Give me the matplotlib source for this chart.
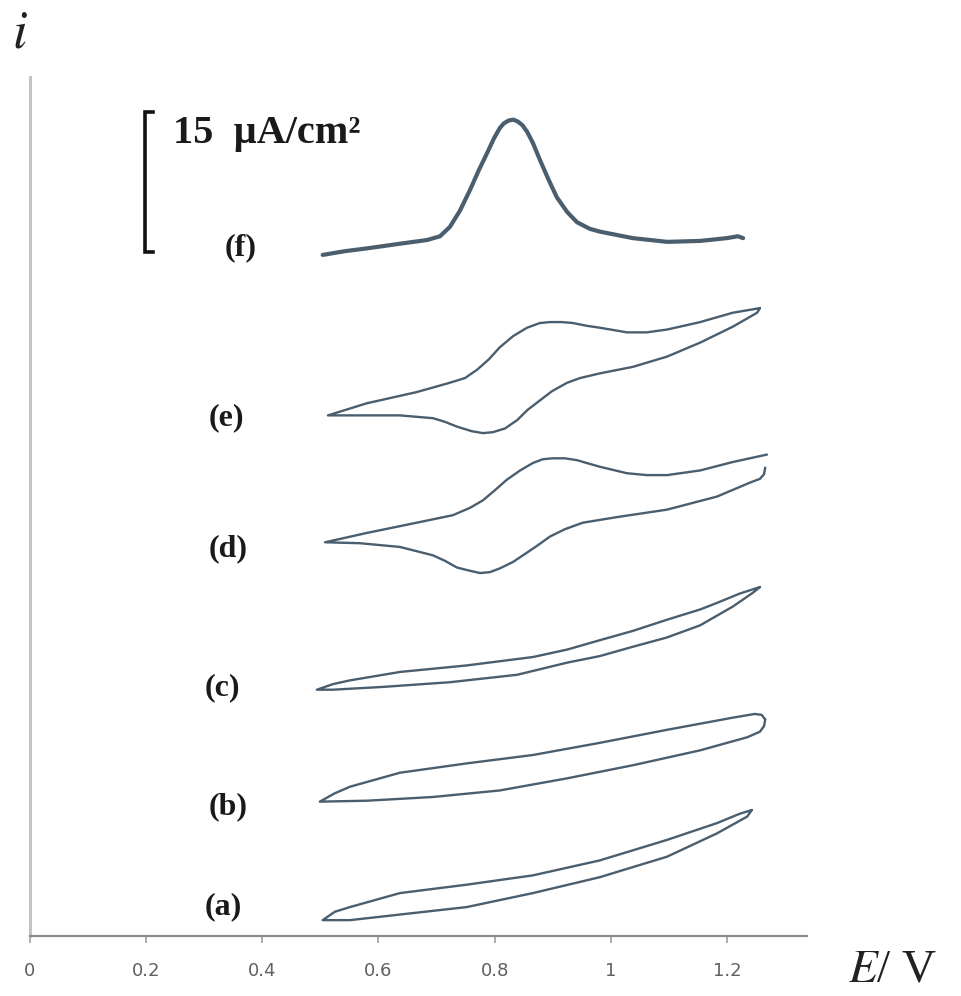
import numpy as np
import matplotlib
matplotlib.use("Agg")
import matplotlib.pyplot as plt

plt.rcParams['font.family'] = ['Liberation Serif', 'DejaVu Serif']
plt.rcParams['mathtext.fontset'] = 'stix'

# potentials (V) and currents (uA/cm2, curves stacked with offsets as drawn)
# each loop: anodic branch (up) and cathodic branch (dn), both left -> right
a_e_up = [0.504, 0.525, 0.551, 0.637, 0.752, 0.866, 0.981, 1.097, 1.183, 1.222, 1.243]
a_i_up = [1.7, 2.6, 3.1, 4.6, 5.5, 6.5, 8.1, 10.3, 12.1, 13.1, 13.5]
a_e_dn = [0.504, 0.551, 0.637, 0.752, 0.866, 0.981, 1.097, 1.183, 1.235, 1.243]
a_i_dn = [1.7, 1.7, 2.3, 3.1, 4.6, 6.3, 8.5, 11.0, 12.8, 13.5]

b_e_up = [0.499, 0.525, 0.551, 0.637, 0.752, 0.866, 0.981, 1.097, 1.210, 1.248, 1.260, 1.266]
b_i_up = [14.4, 15.3, 16.0, 17.5, 18.5, 19.4, 20.7, 22.1, 23.4, 23.8, 23.7, 23.2]
b_e_dn = [0.499, 0.580, 0.694, 0.809, 0.925, 1.038, 1.154, 1.235, 1.257, 1.264, 1.266]
b_i_dn = [14.4, 14.5, 14.9, 15.6, 16.9, 18.3, 19.9, 21.3, 21.9, 22.5, 23.2]

c_e_up = [0.494, 0.522, 0.551, 0.637, 0.752, 0.866, 0.925, 0.981, 1.038, 1.097, 1.154, 1.183, 1.222, 1.257]
c_i_up = [26.4, 27.0, 27.4, 28.3, 29.0, 29.9, 30.7, 31.7, 32.7, 33.9, 35.0, 35.7, 36.7, 37.4]
c_e_dn = [0.494, 0.522, 0.608, 0.723, 0.839, 0.925, 0.981, 1.038, 1.097, 1.154, 1.210, 1.245, 1.257]
c_i_dn = [26.4, 26.4, 26.7, 27.2, 28.0, 29.3, 30.0, 31.0, 32.0, 33.3, 35.3, 36.8, 37.4]

d_e_up = [0.508, 0.580, 0.666, 0.728, 0.758, 0.780, 0.801, 0.821, 0.844, 0.866, 0.883, 0.900,
          0.921, 0.942, 0.964, 0.981, 1.028, 1.062, 1.097, 1.154, 1.210, 1.269]
d_i_up = [42.2, 43.2, 44.3, 45.1, 45.9, 46.7, 47.8, 48.9, 49.9, 50.7, 51.1, 51.2,
          51.2, 51.0, 50.6, 50.3, 49.6, 49.4, 49.4, 49.9, 50.8, 51.6]
d_e_dn = [0.508, 0.568, 0.637, 0.694, 0.715, 0.735, 0.754, 0.775, 0.792, 0.809, 0.832, 0.856,
          0.875, 0.895, 0.921, 0.952, 1.011, 1.097, 1.183, 1.240, 1.257, 1.264, 1.266]
d_i_dn = [42.2, 42.1, 41.7, 40.8, 40.2, 39.5, 39.2, 38.9, 39.0, 39.4, 40.1, 41.1,
          41.9, 42.8, 43.6, 44.3, 44.9, 45.7, 47.1, 48.6, 49.0, 49.5, 50.2]

e_e_up = [0.513, 0.580, 0.666, 0.723, 0.749, 0.770, 0.790, 0.809, 0.832, 0.856, 0.878, 0.895,
          0.916, 0.935, 0.959, 0.981, 1.028, 1.062, 1.097, 1.154, 1.210, 1.257]
e_i_up = [55.8, 57.1, 58.3, 59.3, 59.8, 60.7, 61.8, 63.1, 64.3, 65.2, 65.7, 65.8,
          65.8, 65.7, 65.4, 65.2, 64.7, 64.7, 65.0, 65.8, 66.8, 67.3]
e_e_dn = [0.513, 0.534, 0.580, 0.637, 0.694, 0.715, 0.735, 0.761, 0.780, 0.797, 0.818, 0.839,
          0.857, 0.878, 0.899, 0.925, 0.947, 0.981, 1.038, 1.097, 1.154, 1.210, 1.252, 1.257]
e_i_dn = [55.8, 55.8, 55.8, 55.8, 55.5, 55.1, 54.6, 54.1, 53.9, 54.0, 54.4, 55.3,
          56.4, 57.4, 58.4, 59.3, 59.8, 60.3, 61.0, 62.1, 63.6, 65.3, 66.8, 67.3]

# (f) single sweep
f_e = [0.504, 0.542, 0.580, 0.637, 0.684, 0.706, 0.723, 0.740, 0.758, 0.773, 0.787, 0.799,
       0.809, 0.816, 0.824, 0.832, 0.840, 0.848, 0.856, 0.866, 0.878, 0.892, 0.907, 0.925,
       0.942, 0.964, 0.981, 1.038, 1.097, 1.154, 1.200, 1.219, 1.228]
f_i = [73.0, 73.4, 73.7, 74.2, 74.6, 75.0, 76.0, 77.7, 80.0, 82.1, 83.9, 85.5,
       86.6, 87.1, 87.4, 87.5, 87.3, 86.9, 86.2, 85.0, 83.2, 81.2, 79.2, 77.6,
       76.5, 75.8, 75.5, 74.8, 74.4, 74.5, 74.8, 75.0, 74.8]

loops = [(a_e_up, a_i_up, a_e_dn, a_i_dn), (b_e_up, b_i_up, b_e_dn, b_i_dn),
         (c_e_up, c_i_up, c_e_dn, c_i_dn), (d_e_up, d_i_up, d_e_dn, d_i_dn),
         (e_e_up, e_i_up, e_e_dn, e_i_dn)]
labels = ['(a)', '(b)', '(c)', '(d)', '(e)', '(f)']
label_pos = [(0.332, 3.1), (0.341, 13.9), (0.332, 26.6), (0.341, 41.5), (0.339, 55.6), (0.362, 73.8)]
xticks = [0, 0.2, 0.4, 0.6, 0.8, 1.0, 1.2]
xticklabels = ['0', '0.2', '0.4', '0.6', '0.8', '1', '1.2']

W, H = 962, 996
fig = plt.figure(figsize=(W / 100, H / 100), dpi=100)
ax = fig.add_axes([30 / W, 60 / H, 777 / W, 859 / H])

col = '#4b5e6e'
for eu, iu, ed, idn in loops:
    x = list(ed[::-1]) + list(eu[1:])
    y = list(idn[::-1]) + list(iu[1:])
    ax.plot(x, y, color=col, lw=1.7, solid_joinstyle='round', solid_capstyle='round')
ax.plot(f_e, f_i, color=col, lw=3.0, solid_joinstyle='round', solid_capstyle='round')

for lab, (lx, ly) in zip(labels, label_pos):
    ax.text(lx, ly, lab, fontsize=23, fontweight='bold', ha='center', va='center', color='#1a1a1a')

# scale bar 15 uA/cm2
bx, b0, b1, serif = 0.198, 73.3, 88.3, 0.014
ax.plot([bx + serif, bx, bx, bx + serif], [b1, b1, b0, b0], color='#111111', lw=2.6,
        solid_joinstyle='miter', clip_on=False)
ax.text(0.246, 85.0, '15  µA/cm²', fontsize=29, fontweight='bold', ha='left', va='baseline',
        color='#1a1a1a')

ax.set_xlim(0, 1.338)
ax.set_ylim(0, 92.07)
ax.spines['top'].set_visible(False)
ax.spines['right'].set_visible(False)
ax.spines['left'].set_color('#c4c4c4')
ax.spines['left'].set_linewidth(2.2)
ax.spines['bottom'].set_color('#8c8c8c')
ax.spines['bottom'].set_linewidth(1.6)
ax.set_yticks([])
ax.set_xticks(xticks)
ax.set_xticklabels(xticklabels, fontfamily='DejaVu Sans', fontsize=13, color='#606060')
ax.tick_params(axis='x', direction='out', length=5, width=1.2, color='#a0a0a0', pad=14)

fig.text(20 / W, 1 - 35 / H, r'$i$', fontsize=38, ha='center', va='center', color='#222222')
fig.text(848 / W, 1 - 970 / H, r'$E$/ V', fontsize=34, ha='left', va='center', color='#222222')

fig.savefig('out.png', dpi=100, facecolor='white')
